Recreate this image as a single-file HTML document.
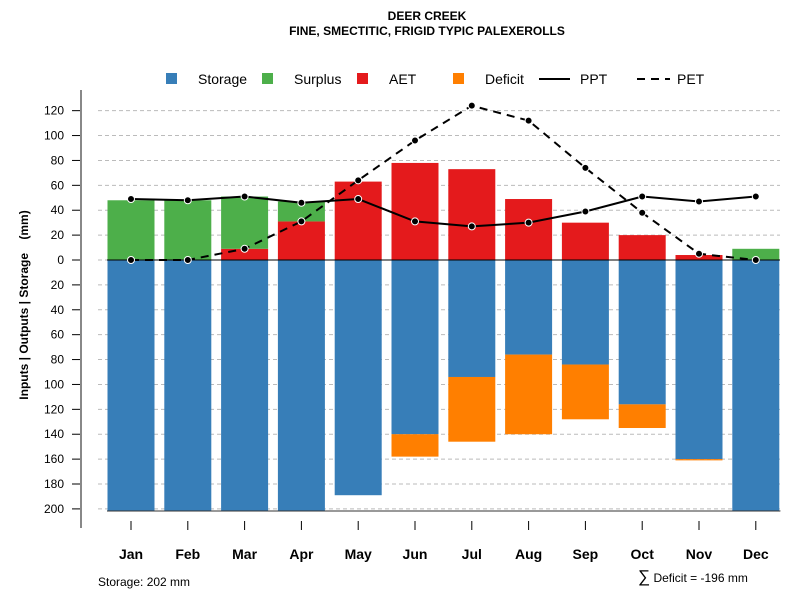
<!DOCTYPE html>
<html><head><meta charset="utf-8"><style>
body{margin:0;background:#fff}
svg{font-family:"Liberation Sans",sans-serif}
</style></head><body>
<svg id="c" width="800" height="600"></svg>
<script>
const months=["Jan","Feb","Mar","Apr","May","Jun","Jul","Aug","Sep","Oct","Nov","Dec"];
const storage=[202,202,202,202,189,140,94,76,84,116,160,202];
const deficit=[0,0,0,0,0,18,52,64,44,19,1,0];
const aet=[0,0,9,31,63,78,73,49,30,20,4,0];
const surplus=[48,48,42,16,0,0,0,0,0,0,0,9];
const ppt=[49,48,51,46,49,31,27,30,39,51,47,51];
const pet=[0,0,9,31,64,96,124,112,74,38,5,0];
const yTicks=[120,100,80,60,40,20,0,-20,-40,-60,-80,-100,-120,-140,-160,-180,-200];
const NS="http://www.w3.org/2000/svg";
const svg=document.getElementById('c');
function el(t,a,txt){const e=document.createElementNS(NS,t);for(const k in a)e.setAttribute(k,a[k]);if(txt!==undefined)e.textContent=txt;svg.appendChild(e);return e;}
const y=v=>260-v*1.2445;
const x=i=>131+i*56.8;
const bw=47;
let t=el('text',{x:427,y:20,'text-anchor':'middle','font-size':12,'font-weight':'bold'},'DEER CREEK');

t=el('text',{x:427,y:35,'text-anchor':'middle','font-size':12,'font-weight':'bold'},'FINE, SMECTITIC, FRIGID TYPIC PALEXEROLLS');

yTicks.forEach(v=>{
 const g=el('line',{x1:98,x2:780,y1:y(v),y2:y(v),stroke:'#bbb','stroke-dasharray':'4,3'});
 
 const tk=el('line',{x1:72,x2:81,y1:y(v),y2:y(v),stroke:'#000'});
 
 const lb=el('text',{x:64,y:y(v)+4,'text-anchor':'end','font-size':12},Math.abs(v));
 
});
months.forEach((m,i)=>{
 const cx=x(i),x0=cx-bw/2;
 let r=el('rect',{x:x0,y:y(0),width:bw,height:y(-storage[i])-y(0),fill:'#377eb8'});
 
 if(deficit[i]>0){r=el('rect',{x:x0,y:y(-storage[i]),width:bw,height:y(-storage[i]-deficit[i])-y(-storage[i]),fill:'#ff7f00'});
 }
 if(aet[i]>0){r=el('rect',{x:x0,y:y(aet[i]),width:bw,height:y(0)-y(aet[i]),fill:'#e41a1c'});
 }
 if(surplus[i]>0){r=el('rect',{x:x0,y:y(aet[i]+surplus[i]),width:bw,height:y(aet[i])-y(aet[i]+surplus[i]),fill:'#4daf4a'});
 }
 const tk=el('line',{x1:cx,x2:cx,y1:521,y2:530,stroke:'#000'});
 
 const lb=el('text',{x:cx,y:559,'text-anchor':'middle','font-size':14,'font-weight':'bold'},m);
 
});
let l=el('line',{x1:107,x2:780,y1:260,y2:260,stroke:'#000'});

l=el('polyline',{points:`107,511 780,511 780,${y(-202)}`,fill:'none',stroke:'#333'});

l=el('line',{x1:81,x2:81,y1:90,y2:528,stroke:'#888','stroke-width':2});

l=el('polyline',{points:ppt.map((v,i)=>x(i)+','+y(v)).join(' '),fill:'none',stroke:'#000','stroke-width':2});

l=el('polyline',{points:pet.map((v,i)=>x(i)+','+y(v)).join(' '),fill:'none',stroke:'#000','stroke-width':2,'stroke-dasharray':'8,6'});

ppt.forEach((v,i)=>{const c=el('circle',{cx:x(i),cy:y(v),r:3.5,fill:'#000',stroke:'#fff','stroke-width':1});
 });
pet.forEach((v,i)=>{const c=el('circle',{cx:x(i),cy:y(v),r:3.5,fill:'#000',stroke:'#fff','stroke-width':1});
 });
t=el('text',{transform:'translate(28,305) rotate(-90)','text-anchor':'middle','font-size':12,'font-weight':'bold',style:'white-space:pre'},'Inputs | Outputs | Storage    (mm)');

const leg=[["Storage","#377eb8",166,198],["Surplus","#4daf4a",262,294],["AET","#e41a1c",357,389],["Deficit","#ff7f00",453,485]];
leg.forEach(d=>{
 const r=el('rect',{x:d[2],y:73,width:11,height:11,fill:d[1]});
 
 const tx=el('text',{x:d[3],y:84,'font-size':14},d[0]);
 
});
l=el('line',{x1:539,x2:570,y1:79,y2:79,stroke:'#000','stroke-width':2});

t=el('text',{x:580,y:84,'font-size':14},'PPT');

l=el('line',{x1:637,x2:670,y1:79,y2:79,stroke:'#000','stroke-width':2,'stroke-dasharray':'8,6'});

t=el('text',{x:677,y:84,'font-size':14},'PET');

t=el('text',{x:98,y:586,'font-size':12},'Storage: 202 mm');

t=el('text',{x:638,y:582,'font-size':12},'');

const s1=document.createElementNS(NS,'tspan');s1.setAttribute('font-size','17');s1.textContent='∑';t.appendChild(s1);
const s2=document.createElementNS(NS,'tspan');s2.textContent=' Deficit = -196 mm';t.appendChild(s2);
</script>
</body></html>
